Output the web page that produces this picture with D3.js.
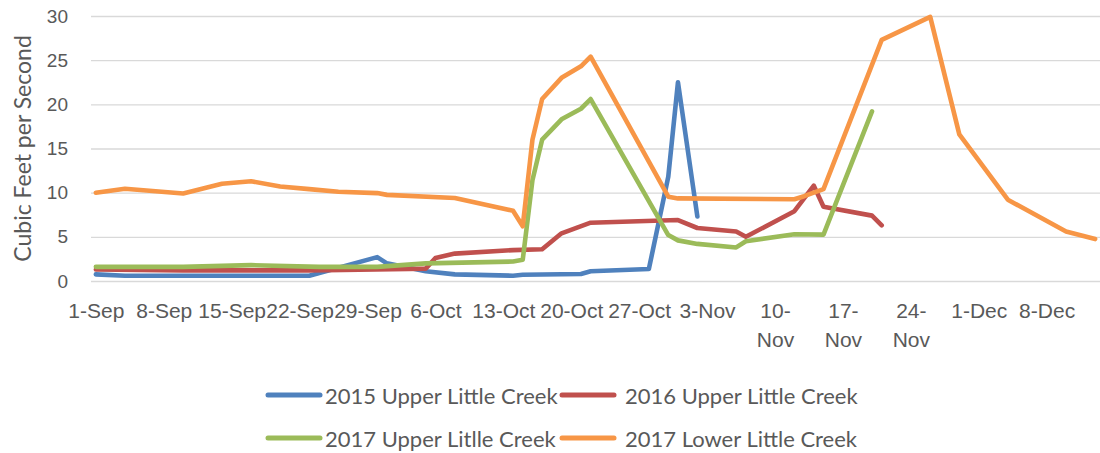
<!DOCTYPE html>
<html>
<head>
<meta charset="utf-8">
<script src="https://cdn.jsdelivr.net/npm/d3@7"></script>
<style>
  body { margin:0; background:#ffffff; }
  svg { font-family: Lato, "Open Sans", sans-serif; }
  .tick text { fill:#595959; }
  .label { fill:#595959; }
</style>
</head>
<body>
<svg id="flowgraph"></svg>
<script>
// flow readings, [month-day, cubic feet per second]
var upper2015 = [
  ["09-01",0.75],["09-04",0.6],["09-23",0.6],["09-30",2.7],["10-01",2.0],
  ["10-05",1.1],["10-08",0.75],["10-14",0.6],["10-15",0.7],["10-21",0.8],
  ["10-22",1.1],["10-28",1.35],["10-30",11.8],["10-31",22.5],["11-02",7.3]
]
var upper2016 = [
  ["09-01",1.3],["09-10",1.2],["09-23",1.2],["10-05",1.4],["10-06",2.6],
  ["10-08",3.1],["10-14",3.5],["10-17",3.6],["10-19",5.4],["10-22",6.6],
  ["10-31",6.9],["11-02",6.0],["11-06",5.6],["11-07",5.0],["11-12",7.9],
  ["11-14",10.8],["11-15",8.4],["11-20",7.4],["11-21",6.3]
]
var upper2017 = [
  ["09-01",1.6],["09-10",1.6],["09-17",1.8],["09-24",1.6],["09-30",1.6],
  ["10-05",2.0],["10-14",2.2],["10-15",2.4],["10-16",11.4],["10-17",16.0],
  ["10-19",18.3],["10-21",19.5],["10-22",20.6],["10-30",5.2],["10-31",4.6],
  ["11-02",4.2],["11-06",3.8],["11-07",4.5],["11-12",5.3],["11-15",5.25],
  ["11-20",19.2]
]
var lower2017 = [
  ["09-01",10.0],["09-04",10.45],["09-10",9.9],["09-14",11.0],["09-17",11.3],
  ["09-20",10.7],["09-23",10.4],["09-26",10.1],["09-30",9.95],["10-01",9.75],
  ["10-08",9.4],["10-14",7.95],["10-15",6.2],["10-16",16.0],["10-17",20.6],
  ["10-19",23.0],["10-21",24.3],["10-22",25.4],["10-30",9.55],["10-31",9.35],
  ["11-12",9.25],["11-13",9.6],["11-15",10.4],["11-21",27.3],["11-26",29.9],
  ["11-29",16.6],["12-04",9.2],["12-10",5.6],["12-13",4.75]
]

var seriesNames = ["2015 Upper Little Creek","2016 Upper Little Creek",
                   "2017 Upper Litlle Creek","2017 Lower Little Creek"]
var seriesColors = ["#4F81BD","#C0504D","#9BBB59","#F79646"]

var xTickLabels = ["1-Sep","8-Sep","15-Sep","22-Sep","29-Sep","6-Oct","13-Oct",
                   "20-Oct","27-Oct","3-Nov","10-Nov","17-Nov","24-Nov","1-Dec","8-Dec"]
// labels excel broke onto two lines
var wrappedTicks = ["10-Nov","17-Nov","24-Nov"]
var yTicks = [0,5,10,15,20,25,30]
var axisStart = "1-Sep"
var axisEnd = "14-Dec"

var parseDay = d3.timeParse("%m-%d")
var parseLabel = d3.timeParse("%d-%b")
// excel puts each day in the middle of its slot
var midDay = function(date) { return d3.timeHour.offset(date, 12) }

var drawFlowAxes = function(target, graph, xScale, yScale)
{
    var yAxis = d3.axisLeft(yScale)
        .tickValues(yTicks)
        .tickSize(-graph.width)
        .tickPadding(23)
    var yg = target.append("g")
        .attr("transform","translate("+graph.left+",0)")
        .call(yAxis)
    yg.select(".domain").remove()
    yg.selectAll(".tick line").attr("stroke","#D9D9D9").attr("stroke-width",1.4)
    yg.selectAll(".tick text").style("font-size","19px")

    var xAxis = d3.axisBottom(xScale)
        .tickValues(xTickLabels.map(function(l){ return midDay(parseLabel(l)) }))
        .tickFormat(function(d,i){ return xTickLabels[i] })
        .tickSize(0)
        .tickPadding(0)
    var xg = target.append("g")
        .attr("transform","translate(0,"+yScale(0)+")")
        .call(xAxis)
    xg.select(".domain").remove()

    xg.selectAll(".tick text")
      .style("font-size","21px")
      .attr("y",0)
      .attr("dy",null)
      .each(function()
      {
          var t = d3.select(this)
          var txt = t.text()
          t.text(null)
          if (wrappedTicks.indexOf(txt) >= 0)
          {
              var cut = txt.indexOf("-")+1
              t.append("tspan").attr("x",0).attr("y",37).text(txt.slice(0,cut))
              t.append("tspan").attr("x",0).attr("y",66).text(txt.slice(cut))
          }
          else
          {
              t.append("tspan").attr("x",0).attr("y",37).text(txt)
          }
      })
}

var drawFlowLabels = function(target, graph)
{
    target.append("g")
          .attr("transform","translate(22,"+(graph.top+graph.height/2)+")")
          .append("text")
          .text("Cubic Feet per Second")
          .classed("label",true)
          .attr("text-anchor","middle")
          .attr("dominant-baseline","central")
          .style("font-size","23px")
          .attr("transform","rotate(-90)")
}

var drawFlowLegend = function(target)
{
    var legend = target.append("g").classed("legend",true)
    var entries = legend.selectAll("g")
        .data(seriesNames)
        .enter()
        .append("g")
        .attr("transform", function(name,i)
        {
            return "translate("+(266+(i%2)*294)+","+(395+Math.floor(i/2)*43)+")"
        })
    entries.append("line")
        .attr("x1",2).attr("x2",54)
        .attr("y1",0).attr("y2",0)
        .attr("stroke", function(name,i){ return seriesColors[i] })
        .attr("stroke-width",5)
        .attr("stroke-linecap","round")
    entries.append("text")
        .text(function(name){ return name })
        .classed("label",true)
        .attr("x", function(name,i){ return i%2 ? 65 : 59 })
        .attr("y",0)
        .attr("dominant-baseline","central")
        .style("font-size","22px")
}

var initFlowGraph = function()
{
    var screen = {width:1100,height:453}
    var graph = {left:91,top:16,width:1009,height:265}

    var svg = d3.select("#flowgraph")
        .attr("width",screen.width)
        .attr("height",screen.height)

    var xScale = d3.scaleTime()
        .domain([parseLabel(axisStart), parseLabel(axisEnd)])
        .range([graph.left, graph.left+graph.width])
    var yScale = d3.scaleLinear()
        .domain([0,30])
        .range([graph.top+graph.height, graph.top])

    drawFlowAxes(svg, graph, xScale, yScale)

    var line = d3.line()
        .x(function(p){ return xScale(midDay(parseDay(p[0]))) })
        .y(function(p){ return yScale(p[1]) })

    svg.append("clipPath").attr("id","plotclip")
       .append("rect")
       .attr("x",graph.left-4).attr("y",0)
       .attr("width",graph.width+4).attr("height",graph.top+graph.height+4)

    svg.append("g")
       .attr("clip-path","url(#plotclip)")
       .selectAll("path")
       .data([upper2015, upper2016, upper2017, lower2017])
       .enter()
       .append("path")
       .attr("d", line)
       .attr("fill","none")
       .attr("stroke", function(s,i){ return seriesColors[i] })
       .attr("stroke-width",4.6)
       .attr("stroke-linejoin","round")
       .attr("stroke-linecap","round")

    drawFlowLabels(svg, graph)
    drawFlowLegend(svg)
}

initFlowGraph()
</script>
</body>
</html>
